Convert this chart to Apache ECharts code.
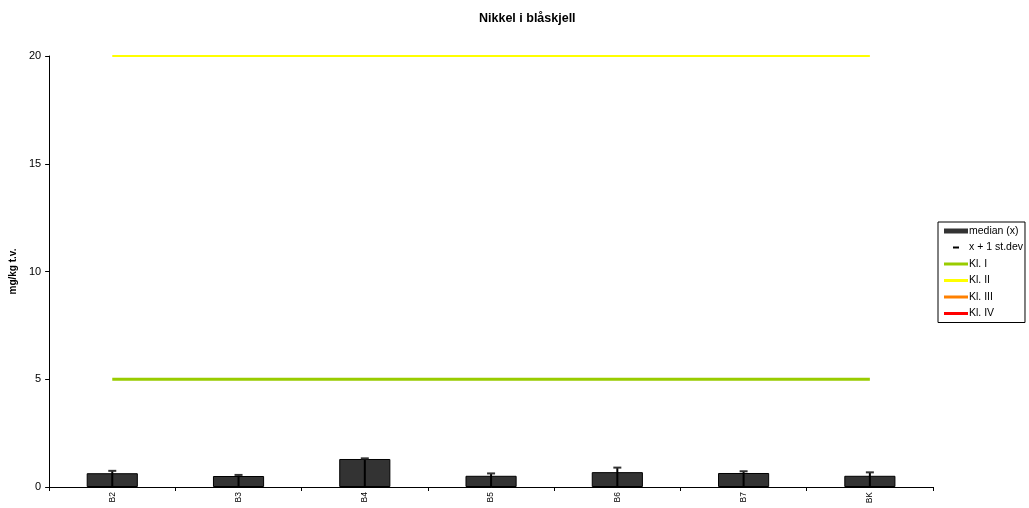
<!DOCTYPE html>
<html><head><meta charset="utf-8">
<script src="https://cdn.jsdelivr.net/npm/echarts@6/dist/echarts.min.js"></script>
<style>html,body{margin:0;padding:0;background:#fff}#c{width:1029px;height:508px}</style>
</head><body><div id="c"></div>
<script>
const categories = ['B2','B3','B4','B5','B6','B7','BK'];
const medianValues = [0.64, 0.51, 1.30, 0.52, 0.69, 0.65, 0.52];
const sdTopValues = [0.75, 0.56, 1.33, 0.63, 0.90, 0.73, 0.68];
const kl1Values = [5, 5, 5, 5, 5, 5, 5];
const kl2Values = [20, 20, 20, 20, 20, 20, 20];
const kl3Values = [];
const kl4Values = [];
const yTicks = [0, 5, 10, 15, 20];

const FONT = 'Liberation Sans, Arial, sans-serif';
const chart = echarts.init(document.getElementById('c'), null, {renderer: 'canvas'});
const lineIcon = 'path://M0,0 M0,4.5 L24,4.5 L24,7.5 L0,7.5 Z M24,12';
const option = {
  animation: false,
  backgroundColor: '#fff',
  title: {
    text: 'Nikkel i blåskjell', left: 474, top: 7,
    textStyle: {fontFamily: FONT, fontSize: 12.5, fontWeight: 'bold', color: '#000'}
  },
  legend: {
    orient: 'vertical', left: 938, top: 222,
    borderColor: '#000', borderWidth: 1, padding: [3, 2, 3, 6],
    itemWidth: 24, itemHeight: 12, itemGap: 4.5,
    textStyle: {fontFamily: FONT, fontSize: 10.5, color: '#000', padding: [0,0,0,-4]},
    data: [
      {name: 'median (x)', icon: 'path://M0,0 M0,3.5 L24,3.5 L24,8.5 L0,8.5 Z M24,12',
       itemStyle: {color: '#333333', borderWidth: 0}},
      {name: 'x + 1 st.dev', icon: 'path://M0,0 M9,5 L15,5 L15,7 L9,7 Z M24,12', itemStyle: {color: '#000'}},
      {name: 'Kl. I', icon: lineIcon},
      {name: 'Kl. II', icon: lineIcon},
      {name: 'Kl. III', icon: lineIcon},
      {name: 'Kl. IV', icon: lineIcon}
    ]
  },
  grid: {left: 46, right: 96, top: 56, bottom: 21},
  xAxis: {
    type: 'category', data: categories, boundaryGap: true,
    axisLine: {lineStyle: {color: '#000', width: 1}},
    axisTick: {show: true, length: 4, lineStyle: {color: '#000'}},
    axisLabel: {rotate: 90, fontSize: 8.5, color: '#000', fontFamily: FONT, margin: 5}
  },
  yAxis: {
    type: 'value', min: 0, max: 20, interval: 5,
    name: 'mg/kg t.v.', nameLocation: 'middle', nameGap: 24, nameRotate: 90,
    nameTextStyle: {fontFamily: FONT, fontSize: 10, fontWeight: 'bold', color: '#000'},
    axisLine: {show: true, lineStyle: {color: '#000', width: 1}},
    axisTick: {show: true, length: 4, lineStyle: {color: '#000'}},
    axisLabel: {fontSize: 11, color: '#000', fontFamily: FONT, margin: 8,
      formatter: v => yTicks.includes(v) ? String(v) : ''},
    splitLine: {show: false}
  },
  series: [
    {
      name: 'median (x)', type: 'bar', data: medianValues, barWidth: '40.5%',
      itemStyle: {color: '#333333', borderColor: '#000', borderWidth: 1}, z: 2
    },
    {
      name: 'x + 1 st.dev', type: 'custom', z: 5,
      itemStyle: {color: '#000'},
      data: sdTopValues.map((v, i) => [i, v]),
      renderItem: function (params, api) {
        const top = api.coord([api.value(0), api.value(1)]);
        const base = api.coord([api.value(0), 0]);
        return {
          type: 'group',
          children: [
            {type: 'line', shape: {x1: top[0], y1: base[1], x2: top[0], y2: top[1]},
             style: {stroke: '#000', lineWidth: 2}},
            {type: 'line', shape: {x1: top[0] - 4, y1: top[1], x2: top[0] + 4, y2: top[1]},
             style: {stroke: '#333', lineWidth: 2}}
          ]
        };
      }
    },
    {name: 'Kl. I', type: 'line', data: kl1Values, symbol: 'none', color: '#99CC00',
     lineStyle: {color: '#99CC00', width: 3}, z: 3},
    {name: 'Kl. II', type: 'line', data: kl2Values, symbol: 'none', color: '#FFFF00',
     lineStyle: {color: '#FFFF00', width: 2}, z: 3},
    {name: 'Kl. III', type: 'line', data: kl3Values, symbol: 'none', color: '#FF8000',
     lineStyle: {color: '#FF8000', width: 3}, z: 3},
    {name: 'Kl. IV', type: 'line', data: kl4Values, symbol: 'none', color: '#FF0000',
     lineStyle: {color: '#FF0000', width: 3}, z: 3}
  ]
};
chart.setOption(option);
</script></body></html>
